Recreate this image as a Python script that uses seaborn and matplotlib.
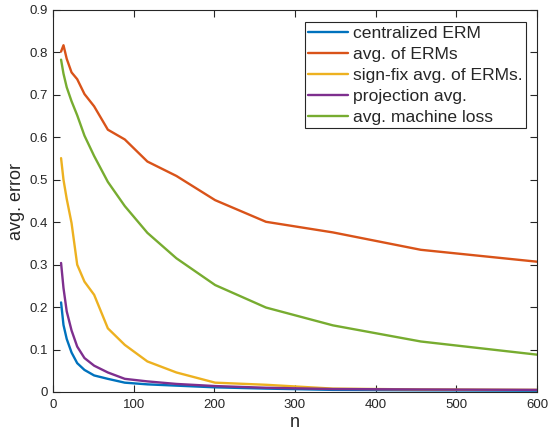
import numpy as np
import pandas as pd
import matplotlib
matplotlib.use("Agg")
import matplotlib.pyplot as plt
import seaborn as sns

# sample sizes (log spaced in the original experiment)
n_vals = [10, 13, 17, 23, 30, 39, 51, 68, 89, 117, 153, 201, 264, 347, 456, 600]

centralized_erm = [0.211, 0.158, 0.125, 0.093, 0.068, 0.052, 0.039, 0.031, 0.022,
                   0.018, 0.015, 0.011, 0.008, 0.005, 0.004, 0.003]
avg_of_erms = [0.802, 0.817, 0.785, 0.753, 0.737, 0.702, 0.673, 0.618, 0.595,
               0.543, 0.509, 0.452, 0.401, 0.376, 0.335, 0.307]
signfix_avg = [0.551, 0.500, 0.455, 0.398, 0.300, 0.260, 0.229, 0.150, 0.111,
               0.072, 0.046, 0.022, 0.017, 0.008, 0.006, 0.005]
projection_avg = [0.304, 0.245, 0.190, 0.145, 0.107, 0.080, 0.062, 0.046, 0.031,
                  0.025, 0.019, 0.014, 0.010, 0.007, 0.006, 0.005]
machine_loss = [0.783, 0.750, 0.718, 0.685, 0.652, 0.604, 0.556, 0.495, 0.438,
                0.375, 0.315, 0.252, 0.199, 0.157, 0.119, 0.088]

labels = ["centralized ERM", "avg. of ERMs", "sign-fix avg. of ERMs.",
          "projection avg.", "avg. machine loss"]
colors = ["#0072BD", "#D95319", "#EDB120", "#7E2F8E", "#77AC30"]

series = [centralized_erm, avg_of_erms, signfix_avg, projection_avg, machine_loss]
frames = []
for lab, vals in zip(labels, series):
    frames.append(pd.DataFrame({"n": n_vals, "err": vals, "method": lab}))
df = pd.concat(frames, ignore_index=True)

sns.set_style("ticks")
plt.rcParams["font.family"] = ["Liberation Sans", "DejaVu Sans"]

fig = plt.figure(figsize=(5.49, 4.32), dpi=100)
ax = fig.add_axes([53 / 549, 1 - 392 / 432, 484 / 549, 382 / 432])

sns.lineplot(data=df, x="n", y="err", hue="method", hue_order=labels,
             palette=colors, linewidth=1.7, ax=ax)

ax.set_xlim(0, 600)
ax.set_ylim(0, 0.9)
ax.set_xticks(np.arange(0, 601, 100))
ax.set_yticks(np.arange(0, 0.91, 0.1))
ax.set_yticklabels(["0"] + [f"{v:.1f}" for v in np.arange(0.1, 0.91, 0.1)])

dark = "#262626"
for side in ["top", "right", "left", "bottom"]:
    ax.spines[side].set_visible(True)
    ax.spines[side].set_color(dark)
    ax.spines[side].set_linewidth(0.8)
ax.tick_params(direction="in", length=5, width=0.8, colors=dark,
               top=True, right=True, labelsize=9.5)
ax.tick_params(axis="x", pad=5)

ax.set_xlabel("n", fontsize=13, color=dark, labelpad=2)
ax.set_ylabel("avg. error", fontsize=13, color=dark, labelpad=3)

leg = ax.legend(loc="upper right", bbox_to_anchor=(0.977, 0.9686), fontsize=12.6,
                frameon=True, fancybox=False, handlelength=2.3,
                handletextpad=0.25, borderpad=0.2, labelspacing=0.33,
                borderaxespad=0.0)
leg.get_frame().set_edgecolor(dark)
leg.get_frame().set_linewidth(0.8)
leg.get_frame().set_alpha(1)

fig.savefig("out.png", dpi=100)
